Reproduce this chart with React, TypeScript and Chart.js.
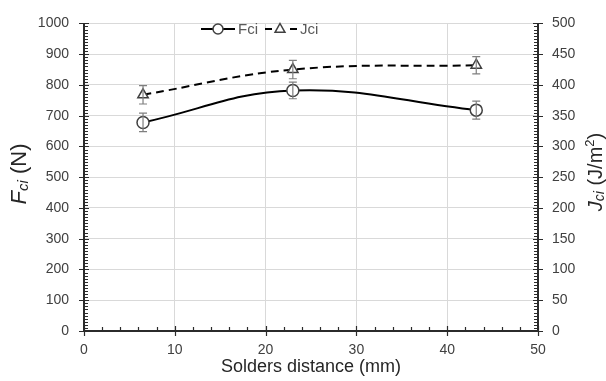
import React, { useEffect, useRef } from "react";
import { Chart, registerables } from "chart.js";

Chart.register(...registerables);

// Solder spacing (mm) and measured critical force / fracture energy
const distances = [6.5, 23, 43.2];
const fciValues = [678, 782, 718];
const fciErrors = [30, 27, 29];
const jciValues = [384, 425, 432];
const jciErrors = [15, 15, 14];

const xTicks = [0, 10, 20, 30, 40, 50];
const fciTicks = [0, 100, 200, 300, 400, 500, 600, 700, 800, 900, 1000];
const jciTicks = [0, 50, 100, 150, 200, 250, 300, 350, 400, 450, 500];

const FONT = "Arial, 'Liberation Sans', sans-serif";
const AXIS_COLOR = "#2b2b2b";
const GRID_COLOR = "#d9d9d9";
const TICK_TEXT = "#404040";

type Part = { text: string; size: number; italic?: boolean; dy?: number };

function drawRich(ctx: CanvasRenderingContext2D, parts: Part[], cx: number, cy: number, angle: number) {
  ctx.save();
  ctx.translate(cx, cy);
  ctx.rotate(angle);
  ctx.textBaseline = "middle";
  ctx.textAlign = "left";
  ctx.fillStyle = "#262626";
  let total = 0;
  const widths = parts.map((p) => {
    ctx.font = `${p.italic ? "italic " : ""}${p.size}px ${FONT}`;
    const w = ctx.measureText(p.text).width;
    total += w;
    return w;
  });
  let x = -total / 2;
  parts.forEach((p, i) => {
    ctx.font = `${p.italic ? "italic " : ""}${p.size}px ${FONT}`;
    ctx.fillText(p.text, x, p.dy || 0);
    x += widths[i];
  });
  ctx.restore();
}

function drawMarker(ctx: CanvasRenderingContext2D, kind: string, x: number, y: number, r: number) {
  ctx.save();
  ctx.fillStyle = "#ffffff";
  ctx.strokeStyle = "#404040";
  ctx.lineWidth = 1.5;
  ctx.beginPath();
  if (kind === "circle") {
    ctx.arc(x, y, r, 0, Math.PI * 2);
  } else {
    ctx.moveTo(x, y - r);
    ctx.lineTo(x + r * 0.9, y + r * 0.6);
    ctx.lineTo(x - r * 0.9, y + r * 0.6);
    ctx.closePath();
  }
  ctx.fill();
  ctx.stroke();
  ctx.restore();
}

const tickText = (v: any) => String(v);

const decorPlugin = {
  id: "decor",
  afterDatasetsDraw(chart: any) {
    const { ctx } = chart;
    const xs = chart.scales.x;
    const yL = chart.scales.y;
    const yR = chart.scales.y2;

    // error bars
    ctx.save();
    ctx.strokeStyle = "#7f7f7f";
    ctx.lineWidth = 1.2;
    const bars = [
      { vals: fciValues, errs: fciErrors, scale: yL },
      { vals: jciValues, errs: jciErrors, scale: yR },
    ];
    bars.forEach((b) => {
      distances.forEach((d, i) => {
        const px = xs.getPixelForValue(d);
        const top = b.scale.getPixelForValue(b.vals[i] + b.errs[i]);
        const bot = b.scale.getPixelForValue(b.vals[i] - b.errs[i]);
        ctx.beginPath();
        ctx.moveTo(px, top);
        ctx.lineTo(px, bot);
        ctx.moveTo(px - 4, top);
        ctx.lineTo(px + 4, top);
        ctx.moveTo(px - 4, bot);
        ctx.lineTo(px + 4, bot);
        ctx.stroke();
      });
    });
    ctx.restore();
  },
  afterDraw(chart: any) {
    const { ctx, chartArea } = chart;
    const xs = chart.scales.x;
    const yL = chart.scales.y;
    const yR = chart.scales.y2;
    const L = chartArea.left;
    const R = chartArea.right;
    const B = chartArea.bottom;
    const T = chartArea.top;

    ctx.save();
    ctx.strokeStyle = AXIS_COLOR;
    // axis lines
    ctx.lineWidth = 2;
    ctx.beginPath();
    ctx.moveTo(L, T);
    ctx.lineTo(L, B);
    ctx.moveTo(L, B);
    ctx.lineTo(R, B);
    ctx.moveTo(R, T);
    ctx.lineTo(R, B);
    ctx.stroke();

    ctx.lineWidth = 1.2;
    ctx.beginPath();
    // left axis: minor every 10, major every 100
    for (let v = 0; v <= 1000; v += 10) {
      const py = Math.round(yL.getPixelForValue(v)) + 0.5;
      if (v % 100 === 0) {
        ctx.moveTo(L - 5, py);
        ctx.lineTo(L + 5, py);
      } else {
        ctx.moveTo(L, py);
        ctx.lineTo(L + 4, py);
      }
    }
    // right axis: minor every 5, major every 50
    for (let v = 0; v <= 500; v += 5) {
      const py = Math.round(yR.getPixelForValue(v)) + 0.5;
      if (v % 50 === 0) {
        ctx.moveTo(R - 5, py);
        ctx.lineTo(R + 5, py);
      } else {
        ctx.moveTo(R - 4, py);
        ctx.lineTo(R, py);
      }
    }
    // bottom axis: minor every 2, major every 10
    for (let v = 0; v <= 50; v += 2) {
      const px = Math.round(xs.getPixelForValue(v)) + 0.5;
      ctx.moveTo(px, B);
      ctx.lineTo(px, B - 4);
    }
    for (let v = 0; v <= 50; v += 10) {
      const px = Math.round(xs.getPixelForValue(v)) + 0.5;
      ctx.moveTo(px, B - 5);
      ctx.lineTo(px, B + 5);
    }
    ctx.stroke();
    ctx.restore();

    // axis titles
    drawRich(ctx, [{ text: "Solders distance (mm)", size: 18 }], (L + R) / 2, 367, 0);
    drawRich(
      ctx,
      [
        { text: "F", size: 22, italic: true },
        { text: "ci", size: 15, italic: true, dy: 4 },
        { text: " (N)", size: 22 },
      ],
      20,
      174,
      -Math.PI / 2
    );
    drawRich(
      ctx,
      [
        { text: "J", size: 20, italic: true },
        { text: "ci", size: 14, italic: true, dy: 4 },
        { text: " (J/m", size: 20 },
        { text: "2", size: 13, dy: -6 },
        { text: ")", size: 20 },
      ],
      596,
      172,
      -Math.PI / 2
    );

    // legend
    const ly = 29;
    ctx.save();
    ctx.strokeStyle = "#000000";
    ctx.lineWidth = 2;
    ctx.beginPath();
    ctx.moveTo(201, ly);
    ctx.lineTo(235, ly);
    ctx.stroke();
    ctx.beginPath();
    ctx.moveTo(265, ly);
    ctx.lineTo(272, ly);
    ctx.moveTo(290, ly);
    ctx.lineTo(297, ly);
    ctx.stroke();
    ctx.restore();
    drawMarker(ctx, "circle", 218, ly, 5);
    drawMarker(ctx, "triangle", 280, ly, 5.5);
    ctx.save();
    ctx.fillStyle = "#595959";
    ctx.font = `15px ${FONT}`;
    ctx.textBaseline = "middle";
    ctx.textAlign = "left";
    ctx.fillText("Fci", 238, ly + 1);
    ctx.fillText("Jci", 300, ly + 1);
    ctx.restore();
  },
};

export default function App() {
  const ref = useRef<HTMLCanvasElement | null>(null);

  useEffect(() => {
    if (!ref.current) return;
    const fciPoints = distances.map((d, i) => ({ x: d, y: fciValues[i] }));
    const jciPoints = distances.map((d, i) => ({ x: d, y: jciValues[i] }));

    const chart = new Chart(ref.current, {
      type: "line",
      data: {
        datasets: [
          {
            label: "Fci",
            data: fciPoints,
            yAxisID: "y",
            borderColor: "#000000",
            borderWidth: 2,
            tension: 0.4,
            pointStyle: "circle",
            pointRadius: 6,
            pointBorderWidth: 1.5,
            pointBorderColor: "#404040",
            pointBackgroundColor: "#ffffff",
          },
          {
            label: "Jci",
            data: jciPoints,
            yAxisID: "y2",
            borderColor: "#000000",
            borderWidth: 2,
            borderDash: [8, 5],
            tension: 0.4,
            pointStyle: "triangle",
            pointRadius: 6,
            pointBorderWidth: 1.5,
            pointBorderColor: "#404040",
            pointBackgroundColor: "#ffffff",
          },
        ],
      },
      options: {
        responsive: false,
        animation: false,
        layout: { padding: { top: 19, left: 0, right: 0, bottom: 0 } },
        plugins: {
          legend: { display: false },
          tooltip: { enabled: false },
        },
        scales: {
          x: {
            type: "linear",
            min: 0,
            max: 50,
            afterBuildTicks: (s: any) => {
              s.ticks = xTicks.map((v) => ({ value: v }));
            },
            afterFit: (s: any) => {
              s.height = 50;
            },
            ticks: {
              color: TICK_TEXT,
              font: { family: FONT, size: 14 },
              padding: 11,
              maxRotation: 0,
              autoSkip: false,
              callback: tickText,
            },
            grid: { color: GRID_COLOR, lineWidth: 1, drawTicks: false },
            border: { display: false },
          },
          y: {
            type: "linear",
            position: "left",
            min: 0,
            max: 1000,
            afterBuildTicks: (s: any) => {
              s.ticks = fciTicks.map((v) => ({ value: v }));
            },
            afterFit: (s: any) => {
              s.width = 84;
            },
            ticks: {
              color: TICK_TEXT,
              font: { family: FONT, size: 14 },
              padding: 15,
              autoSkip: false,
              callback: tickText,
            },
            grid: { color: GRID_COLOR, lineWidth: 1, drawTicks: false },
            border: { display: false },
          },
          y2: {
            type: "linear",
            position: "right",
            min: 0,
            max: 500,
            afterBuildTicks: (s: any) => {
              s.ticks = jciTicks.map((v) => ({ value: v }));
            },
            afterFit: (s: any) => {
              s.width = 68;
            },
            ticks: {
              color: TICK_TEXT,
              font: { family: FONT, size: 14 },
              padding: 14,
              autoSkip: false,
              callback: tickText,
            },
            grid: { display: false, drawTicks: false },
            border: { display: false },
          },
        },
      },
      plugins: [decorPlugin],
    } as any);

    return () => chart.destroy();
  }, []);

  return (
    <div style={{ position: "fixed", left: 0, top: 0, width: 606, height: 381, background: "#ffffff" }}>
      <canvas ref={ref} width={606} height={381} style={{ width: 606, height: 381, display: "block" }} />
    </div>
  );
}
